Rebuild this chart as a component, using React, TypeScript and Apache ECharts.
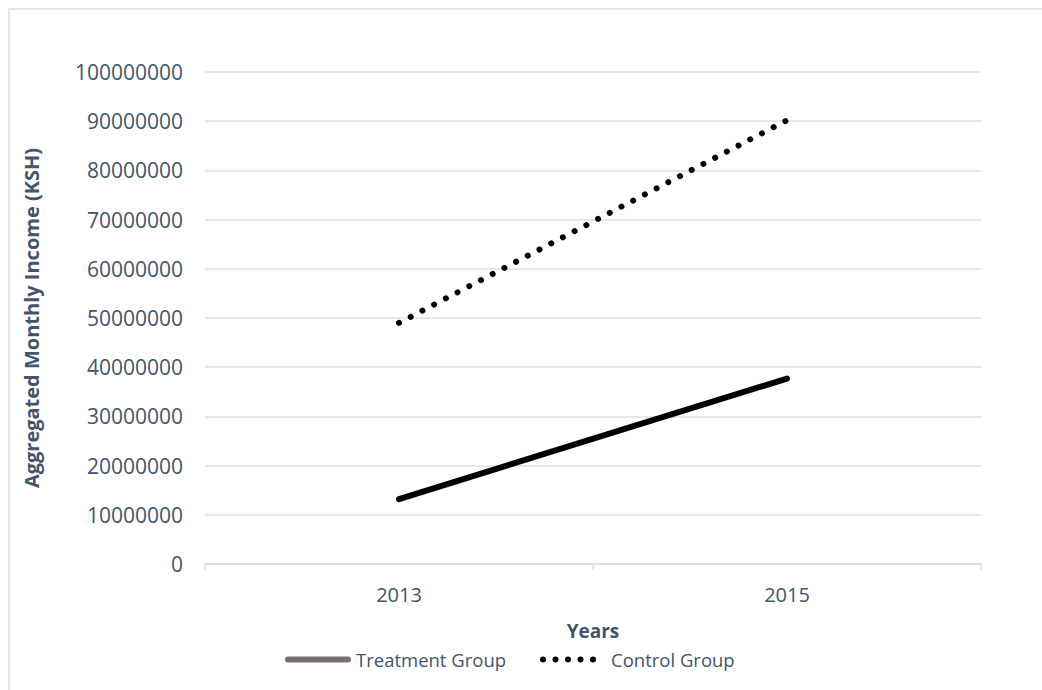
import React, { useEffect, useRef } from "react";
import * as echarts from "echarts";

const years = ["2013", "2015"];
const treatmentGroup = [13200000, 37700000];
const controlGroup = [49000000, 90200000];
const yTicksMax = 100000000;
const yTickStep = 10000000;

const FONT = "'Open Sans', 'Noto Sans', sans-serif";
const TEXT = "#44546A";
const GRID = "#dcdfe4";

function dotsPath(n: number, r: number, step: number) {
  let d = "path://";
  for (let i = 0; i < n; i++) {
    const cx = r + i * step;
    d += `M${cx - r},${r} A${r},${r} 0 1 1 ${cx + r},${r} A${r},${r} 0 1 1 ${cx - r},${r} Z `;
  }
  return d.trim();
}

export default function App() {
  const ref = useRef<HTMLDivElement>(null);
  useEffect(() => {
    const chart = echarts.init(ref.current!, null, { renderer: "svg" });
    chart.setOption({
      animation: false,
      backgroundColor: "#ffffff",
      textStyle: { fontFamily: FONT },
      graphic: [
        {
          type: "rect",
          shape: { x: 9, y: 9, width: 1100, height: 800 },
          style: { fill: "none", stroke: "#d9dce1", lineWidth: 1.5 },
          silent: true,
        },
      ],
      grid: { left: 205, right: 61, top: 72, bottom: 126 },
      xAxis: {
        type: "category",
        data: years,
        boundaryGap: true,
        axisLine: { lineStyle: { color: GRID, width: 1.5 } },
        axisTick: { show: true, length: 6, lineStyle: { color: GRID, width: 1.5 } },
        axisLabel: { color: TEXT, fontSize: 20, fontFamily: FONT, margin: 20 },
        name: "Years",
        nameLocation: "middle",
        nameGap: 57,
        nameTextStyle: { color: TEXT, fontSize: 19, fontWeight: "bold", fontFamily: FONT },
      },
      yAxis: {
        type: "value",
        min: 0,
        max: yTicksMax,
        interval: yTickStep,
        axisLine: { show: false },
        axisTick: { show: false },
        splitLine: { lineStyle: { color: GRID, width: 1.5 } },
        axisLabel: {
          color: TEXT,
          fontSize: 21,
          fontFamily: FONT,
          margin: 22,
          formatter: (v: number) => String(v),
        },
        name: "Aggregated Monthly Income (KSH)",
        nameLocation: "middle",
        nameGap: 164,
        nameTextStyle: { color: TEXT, fontSize: 20, fontWeight: "bold", fontFamily: FONT },
      },
      legend: [
        {
          data: [
            {
              name: "Treatment Group",
              icon: "path://M3,0 H63 A3,3 0 0 1 63,6 H3 A3,3 0 0 1 3,0 Z",
              itemStyle: { color: "#767171" },
            },
          ],
          left: 280,
          top: 645,
          itemWidth: 66,
          itemHeight: 6,
          itemGap: 0,
          textStyle: { color: TEXT, fontSize: 18.5, fontFamily: FONT },
        },
        {
          data: [
            {
              name: "Control Group",
              icon: dotsPath(5, 3, 12.5),
              itemStyle: { color: "#000000" },
            },
          ],
          left: 535,
          top: 645,
          itemWidth: 56,
          itemHeight: 6,
          itemGap: 0,
          textStyle: { color: TEXT, fontSize: 18.5, fontFamily: FONT, padding: [0, 0, 0, 10] },
        },
      ],
      series: [
        {
          name: "Treatment Group",
          type: "line",
          data: treatmentGroup,
          showSymbol: false,
          symbol: "none",
          lineStyle: { color: "#000000", width: 6, cap: "round" },
          itemStyle: { color: "#000000" },
        },
        {
          name: "Control Group",
          type: "line",
          data: controlGroup,
          showSymbol: false,
          symbol: "none",
          lineStyle: { color: "#000000", width: 6, cap: "round", type: [0.01, 13.2] },
          itemStyle: { color: "#000000" },
        },
      ],
    });
    return () => chart.dispose();
  }, []);
  return <div ref={ref} style={{ width: 1042, height: 690, position: "absolute", left: 0, top: 0 }} />;
}
